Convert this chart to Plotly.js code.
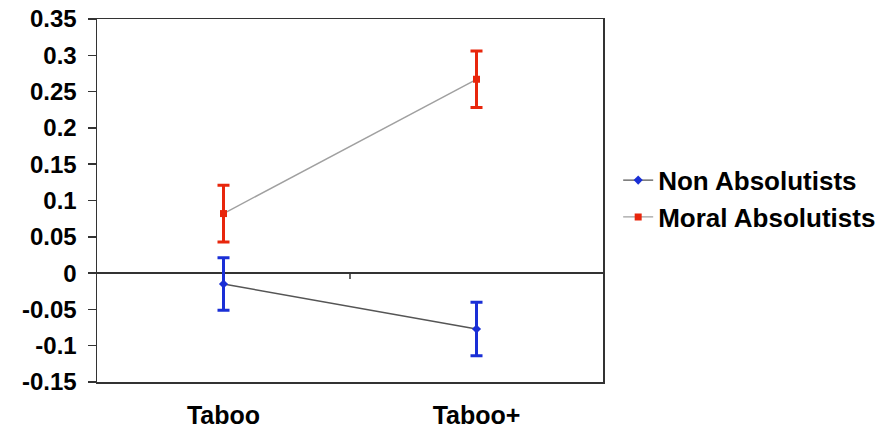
<!DOCTYPE html>
<html>
<head>
<meta charset="utf-8">
<script src="https://cdn.plot.ly/plotly-3.0.1.min.js"></script>
<style>html,body{margin:0;padding:0;background:#fff;}#chart{width:896px;height:430px;}</style>
</head>
<body>
<div id="chart"></div>
<script>
const categories = ["Taboo", "Taboo+"];
const nonAbsMeans = [-0.015, -0.077];
const nonAbsErr = [0.036, 0.037];
const moralAbsMeans = [0.082, 0.267];
const moralAbsErr = [0.039, 0.039];
const yTickVals = [-0.15, -0.1, -0.05, 0, 0.05, 0.1, 0.15, 0.2, 0.25, 0.3, 0.35];
const yTickText = ["-0.15", "-0.1", "-0.05", "0", "0.05", "0.1", "0.15", "0.2", "0.25", "0.3", "0.35"];

const fontFam = "Liberation Sans, Arial, sans-serif";

const traces = [
  {
    x: categories, y: nonAbsMeans, name: "Non Absolutists",
    type: "scatter", mode: "lines+markers",
    line: {color: "#555555", width: 1.4},
    marker: {color: "#1a2fd6", symbol: "diamond", size: 7},
    error_y: {type: "data", array: nonAbsErr, visible: true, color: "#1a2fd6", thickness: 3, width: 6}
  },
  {
    x: categories, y: moralAbsMeans, name: "Moral Absolutists",
    type: "scatter", mode: "lines+markers",
    line: {color: "#a0a0a0", width: 1.4},
    marker: {color: "#e8260c", symbol: "square", size: 7},
    error_y: {type: "data", array: moralAbsErr, visible: true, color: "#e8260c", thickness: 3, width: 6}
  }
];

const layout = {
  width: 896, height: 430,
  margin: {l: 97, r: 293, t: 19, b: 48},
  paper_bgcolor: "#ffffff", plot_bgcolor: "#ffffff",
  showlegend: true,
  legend: {
    x: 1.03, xanchor: "left", y: 0.505, yanchor: "middle",
    font: {family: fontFam, size: 26, color: "#000", weight: "bold"},
    tracegroupgap: 0, bgcolor: "rgba(0,0,0,0)"
  },
  xaxis: {
    type: "category", range: [-0.5, 1.5],
    showgrid: false, zeroline: false,
    showline: true, mirror: true, linecolor: "#333", linewidth: 1.5,
    ticks: "", ticklabelstandoff: 10,
    tickfont: {family: fontFam, size: 25, color: "#000", weight: "bold"}
  },
  yaxis: {
    range: [-0.15, 0.35],
    tickvals: yTickVals, ticktext: yTickText,
    showgrid: false,
    zeroline: true, zerolinecolor: "#333", zerolinewidth: 1.5,
    showline: true, mirror: true, linecolor: "#333", linewidth: 1.5,
    ticks: "outside", ticklen: 8, tickcolor: "#333", tickwidth: 1.5,
    ticklabelstandoff: 6,
    tickfont: {family: fontFam, size: 24, color: "#000", weight: "bold"}
  },
  shapes: [
    {type: "line", xref: "x", yref: "y", x0: 0.5, x1: 0.5, y0: 0, y1: -0.008,
     line: {color: "#333", width: 1.5}}
  ]
};

Plotly.newPlot("chart", traces, layout, {displayModeBar: false, staticPlot: true});
</script>
</body>
</html>
